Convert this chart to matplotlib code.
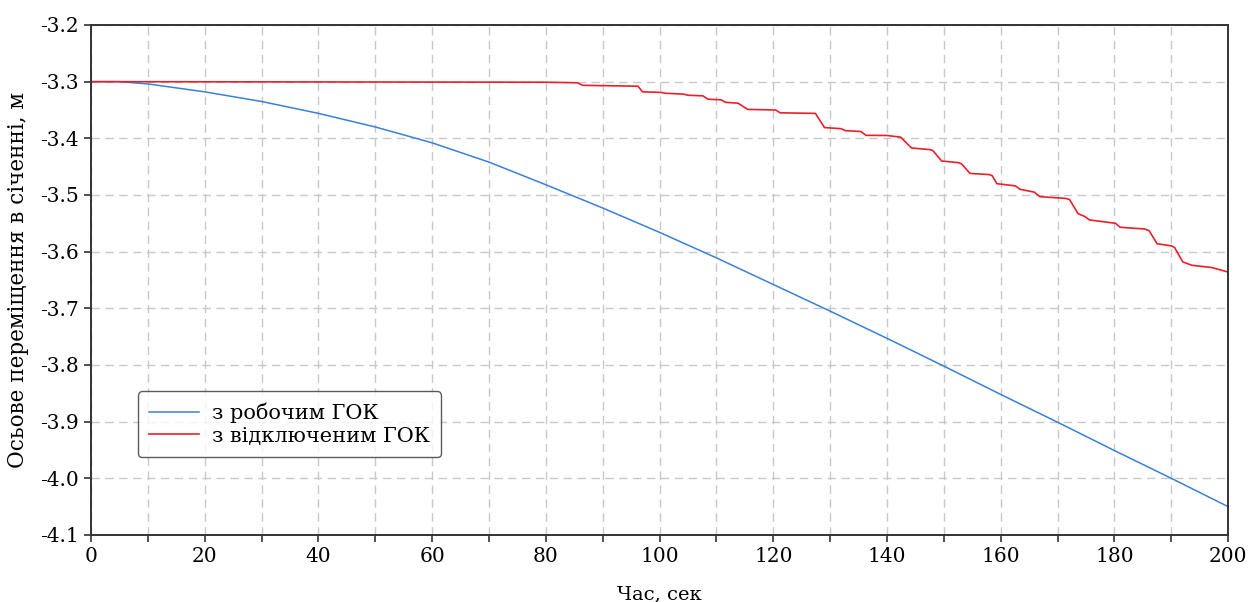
import matplotlib
matplotlib.use("Agg")
import matplotlib.pyplot as plt
import numpy as np
from matplotlib.ticker import MultipleLocator

plt.rcParams['font.family'] = ['DejaVu Serif']

# з робочим ГОК
t_work = [0, 5, 10, 20, 30, 40, 50, 60, 70, 80, 90, 100,
          110, 120, 130, 140, 150, 160, 170, 180, 190, 200]
y_work = [-3.300, -3.300, -3.304, -3.318, -3.335, -3.356, -3.380, -3.408,
          -3.442, -3.482, -3.523, -3.566, -3.611, -3.658, -3.705, -3.753,
          -3.802, -3.852, -3.901, -3.951, -4.000, -4.050]

# з відключеним ГОК
t_off = [0, 80, 85.5, 86.5, 96.2, 97.0, 100.3, 101.0, 104.2, 105.0, 107.6,
         108.5, 110.8, 111.6, 113.8, 115.5, 120.4, 121.2, 127.4, 129.0,
         131.9, 132.7, 135.4, 136.3, 140.0, 142.4, 144.3, 147.6, 148.1,
         149.6, 152.6, 153.1, 154.6, 158.0, 158.5, 159.3, 162.6, 163.4,
         165.9, 166.9, 171.4, 172.1, 173.6, 174.8, 175.6, 180.2, 181.0,
         185.3, 186.1, 187.5, 190.1, 190.6, 192.0, 193.6, 197.1, 200]
y_off = [-3.300, -3.301, -3.302, -3.3065, -3.308, -3.318, -3.319, -3.3205,
         -3.322, -3.324, -3.325, -3.331, -3.332, -3.3365, -3.338, -3.349,
         -3.350, -3.355, -3.356, -3.381, -3.383, -3.3865, -3.388, -3.3947,
         -3.395, -3.398, -3.417, -3.420, -3.422, -3.440, -3.443, -3.445,
         -3.462, -3.464, -3.466, -3.480, -3.484, -3.490, -3.495, -3.503,
         -3.506, -3.508, -3.533, -3.538, -3.544, -3.550, -3.557, -3.560,
         -3.563, -3.586, -3.590, -3.593, -3.618, -3.624, -3.628, -3.636]

fig = plt.figure(figsize=(12.54, 6.02), dpi=100)
ax = fig.add_axes([0.0726, 0.1113, 0.9068, 0.8472])

ax.plot(t_work, y_work, color='#3a80d6', lw=1.1, label='з робочим ГОК')
ax.plot(t_off, y_off, color='#e8202a', lw=1.2, label='з відключеним ГОК')

ax.set_xlim(0, 200)
ax.set_ylim(-4.1, -3.2)
ax.xaxis.set_major_locator(MultipleLocator(20))
ax.xaxis.set_minor_locator(MultipleLocator(10))
ax.yaxis.set_major_locator(MultipleLocator(0.1))
ax.set_yticklabels([f"{v:.1f}".replace('\u2212', '-') for v in ax.get_yticks()])

ax.grid(True, which='both', axis='x', color='#c8c8c8', ls=(0, (6, 4)), lw=1)
ax.grid(True, which='major', axis='y', color='#c8c8c8', ls=(0, (6, 4)), lw=1)
ax.set_axisbelow(True)

ax.tick_params(which='both', direction='out', length=5, width=1.2,
               color='#333333', labelsize=14.5, top=False, right=False)
for s in ax.spines.values():
    s.set_color('#333333')
    s.set_linewidth(1.4)

ax.set_xlabel('Час, сек', fontsize=14, labelpad=14)
ax.set_ylabel('Осьове переміщення в січенні, м', fontsize=15.5, labelpad=8)

leg = ax.legend(loc='lower left', bbox_to_anchor=(0.0413, 0.153), fontsize=15,
                frameon=True, fancybox=True, edgecolor='#333333',
                handlelength=2.4, borderpad=0.55, labelspacing=0.15,
                borderaxespad=0, handletextpad=0.6)
leg.get_frame().set_linewidth(1.0)

fig.savefig('out.png', dpi=100)
